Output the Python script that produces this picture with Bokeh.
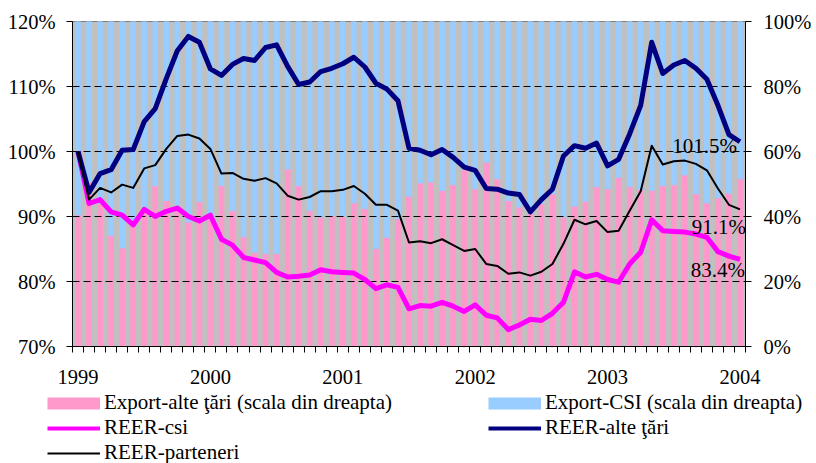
from bokeh.plotting import figure
from bokeh.layouts import column
from bokeh.models import (Range1d, LinearAxis, FixedTicker, Legend, LegendItem, Label,
                          ColumnDataSource, Grid)
from bokeh.embed import file_html
from bokeh.resources import INLINE

# ---- data (monthly, Jan 1999 .. Jan 2004) ----
months = list(range(61))
year_ticks = [0, 12, 24, 36, 48, 60]
year_labels = ["1999", "2000", "2001", "2002", "2003", "2004"]

# export shares, % (right scale)
export_alte = [40.5, 50.8, 44.0, 34.2, 30.3, 38.0, 42.0, 49.5, 44.9, 43.5, 38.3, 44.6,
               40.3, 49.5, 41.8, 33.8, 29.0, 28.6, 28.6, 54.6, 49.5, 41.8, 39.8, 40.3,
               40.0, 44.2, 42.4, 30.1, 33.6, 39.3, 46.2, 50.3, 50.6, 48.0, 49.8, 54.5,
               48.5, 56.7, 51.6, 44.9, 42.9, 41.0, 44.0, 47.0, 39.8, 43.2, 44.7, 49.2,
               48.5, 52.1, 49.2, 48.3, 48.0, 49.5, 49.8, 52.8, 47.0, 44.2, 45.8, 47.2,
               51.6]
export_csi = [59.5, 49.2, 56.0, 65.8, 69.7, 62.0, 58.0, 50.5, 55.1, 56.5, 61.7, 55.4,
              59.7, 50.5, 58.2, 66.2, 71.0, 71.4, 71.4, 45.4, 50.5, 58.2, 60.2, 59.7,
              60.0, 55.8, 57.6, 69.9, 66.4, 60.7, 53.8, 49.7, 49.4, 52.0, 50.2, 45.5,
              51.5, 43.3, 48.4, 55.1, 57.1, 59.0, 56.0, 53.0, 60.2, 56.8, 55.3, 50.8,
              51.5, 47.9, 50.8, 51.7, 52.0, 50.5, 50.2, 47.2, 53.0, 55.8, 54.2, 52.8,
              48.4]

# REER indices, % (left scale)
reer_csi = [100.0, 92.0, 92.6, 90.7, 90.2, 88.7, 91.1, 90.0, 90.8, 91.3, 90.0, 89.3,
            90.2, 86.5, 85.6, 83.7, 83.3, 82.9, 81.4, 80.7, 80.8, 81.0, 81.8, 81.5,
            81.4, 81.3, 80.3, 78.9, 79.5, 79.1, 75.8, 76.3, 76.2, 76.8, 76.2, 75.4,
            76.4, 74.8, 74.4, 72.6, 73.3, 74.2, 74.0, 75.1, 76.8, 81.5, 80.7, 81.1,
            80.3, 79.9, 82.7, 84.5, 89.5, 87.8, 87.7, 87.6, 87.3, 86.8, 84.6, 83.9,
            83.4]
reer_alte = [100.0, 93.7, 96.6, 97.2, 100.2, 100.3, 104.6, 106.6, 111.2, 115.5, 117.7, 116.8,
             112.7, 111.7, 113.4, 114.3, 114.0, 116.0, 116.4, 113.1, 110.3, 110.7, 112.3, 112.8,
             113.5, 114.5, 113.0, 110.5, 109.6, 107.8, 100.5, 100.2, 99.5, 100.3, 99.1, 97.6,
             97.1, 94.3, 94.2, 93.6, 93.4, 90.7, 92.6, 94.2, 99.3, 100.9, 100.5, 101.3,
             97.8, 98.8, 102.7, 107.1, 116.8, 112.0, 113.3, 114.0, 112.8, 111.1, 107.1, 102.6,
             101.5]
reer_parteneri = [100.0, 92.6, 94.4, 93.7, 94.9, 94.4, 97.4, 97.9, 100.4, 102.4, 102.6, 102.0,
                  100.4, 96.6, 96.7, 95.8, 95.5, 95.9, 95.1, 93.2, 92.6, 93.0, 93.9, 93.9,
                  94.1, 94.7, 93.5, 91.8, 91.8, 90.9, 86.0, 86.2, 85.9, 86.5, 85.6, 84.7,
                  85.0, 82.7, 82.4, 81.2, 81.4, 80.9, 81.5, 82.7, 85.8, 89.5, 88.8, 89.3,
                  87.6, 87.8, 90.9, 93.9, 100.9, 98.0, 98.5, 98.6, 98.1, 97.1, 94.3, 91.8,
                  91.1]

left_ticks = [70, 80, 90, 100, 110, 120]
right_ticks = [0, 20, 40, 60, 80, 100]
grid_ticks = [80, 90, 100, 110]

FONT = "'Liberation Serif'"
TICK_FS = "20.5px"
LEG_FS = "21px"

p = figure(frame_width=673, frame_height=325,
           x_range=Range1d(-0.5, 60.5), y_range=Range1d(70, 120),
           output_backend="svg", toolbar_location=None,
           x_axis_type=None, y_axis_type=None,
           min_border_left=72, min_border_right=71, min_border_top=21, min_border_bottom=44,
           background_fill_color="#C0C0C0", border_fill_color="white",
           outline_line_color="#808080", outline_line_width=1)
p.frame_align = False
p.extra_y_ranges = {"right": Range1d(0, 100)}

# bars (right scale)
src = ColumnDataSource(dict(month=months, alte=export_alte, csi=export_csi))
p.vbar_stack(["alte", "csi"], x="month", width=0.42, source=src,
             color=["#FF99CC", "#99CCFF"], y_range_name="right", level="image")

grid = Grid(dimension=1, ticker=FixedTicker(ticks=grid_ticks), grid_line_color="black",
            grid_line_dash="7 4", grid_line_width=1)
p.add_layout(grid)

r_csi = p.line(months, reer_csi, line_color="#FF00FF", line_width=5, line_join="round")
r_alte = p.line(months, reer_alte, line_color="#000080", line_width=5, line_join="round")
r_part = p.line(months, reer_parteneri, line_color="black", line_width=2, line_join="round")

yl = LinearAxis(ticker=FixedTicker(ticks=left_ticks),
                major_label_overrides={t: f"{t}%" for t in left_ticks})
yr = LinearAxis(y_range_name="right", ticker=FixedTicker(ticks=right_ticks),
                major_label_overrides={t: f"{t}%" for t in right_ticks})
xa = LinearAxis(ticker=FixedTicker(ticks=year_ticks, minor_ticks=[k - 0.5 for k in range(62)]),
                major_label_overrides=dict(zip(year_ticks, year_labels)))
for ax in (yl, yr):
    ax.major_tick_out = 6
    ax.major_tick_in = 0
    ax.minor_tick_out = 0
    ax.minor_tick_in = 0
yl.major_label_standoff = 11
yr.major_label_standoff = 12
xa.major_tick_out = 0
xa.major_tick_in = 0
xa.minor_tick_out = 6
xa.minor_tick_in = 0
xa.major_label_standoff = 17
for ax in (yl, yr, xa):
    ax.axis_line_color = "black"
    ax.major_tick_line_color = "black"
    ax.minor_tick_line_color = "black"
    ax.major_label_text_font = FONT
    ax.major_label_text_font_size = TICK_FS
    ax.major_label_text_color = "black"
p.add_layout(yl, "left")
p.add_layout(yr, "right")
p.add_layout(xa, "below")

# value labels at the last point
for vals, xo, yo in [(reer_alte, -3, -4.5), (reer_parteneri, 6, -18), (reer_csi, 5, -11)]:
    p.add_layout(Label(x=months[-1], y=vals[-1], text=f"{vals[-1]:.1f}%", x_offset=xo, y_offset=yo,
                       text_align="right", text_baseline="middle", text_font=FONT,
                       text_font_size=LEG_FS, text_color="black"))

# ---- legend strip (separate figure below the chart) ----
lf = figure(width=816, height=73, x_range=Range1d(0, 1), y_range=Range1d(0, 1),
            output_backend="svg", toolbar_location=None, x_axis_type=None, y_axis_type=None,
            min_border_left=47, min_border_right=0, min_border_top=0, min_border_bottom=0,
            outline_line_color=None, background_fill_color="white", border_fill_color="white")
lf.frame_align = False
sw_alte = lf.line([5, 6], [5, 6], line_color="#FF99CC", line_width=12, line_cap="butt")
sw_csi = lf.line([5, 6], [5, 6], line_color="#99CCFF", line_width=12, line_cap="butt")
lg_csi = lf.line([5, 6], [5, 6], line_color="#FF00FF", line_width=4)
lg_alte = lf.line([5, 6], [5, 6], line_color="#000080", line_width=4)
lg_part = lf.line([5, 6], [5, 6], line_color="black", line_width=2)

leg = Legend(items=[LegendItem(label="Export-alte ţări (scala din dreapta)", renderers=[sw_alte]),
                    LegendItem(label="Export-CSI (scala din dreapta)", renderers=[sw_csi]),
                    LegendItem(label="REER-csi", renderers=[lg_csi]),
                    LegendItem(label="REER-alte ţări", renderers=[lg_alte]),
                    LegendItem(label="REER-parteneri", renderers=[lg_part])],
             orientation="horizontal", ncols=2, location="top_left",
             border_line_alpha=0, background_fill_alpha=0, padding=0, spacing=0, margin=0,
             glyph_width=53, glyph_height=24, label_height=24, label_width=384, label_standoff=4,
             label_text_font=FONT, label_text_font_size=LEG_FS, label_text_color="black")
lf.add_layout(leg)

open("out.html", "w").write(file_html(column(p, lf), INLINE))
